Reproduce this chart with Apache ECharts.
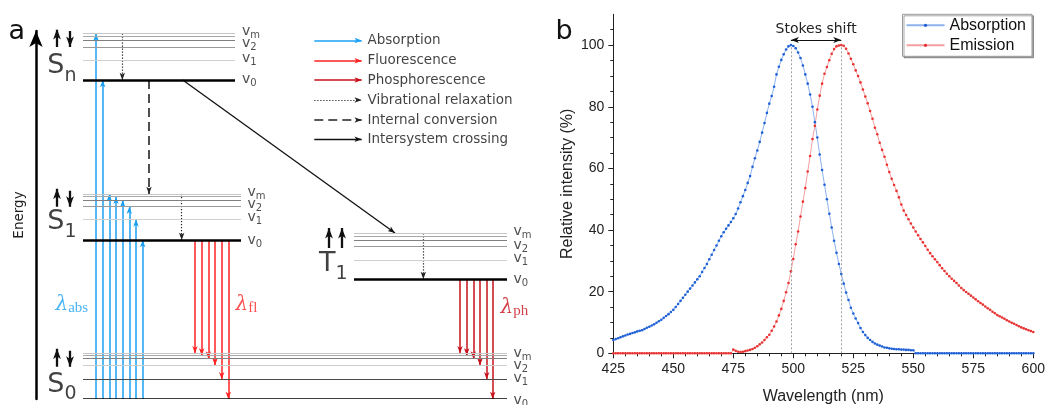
<!DOCTYPE html>
<html><head><meta charset="utf-8">
<script src="https://cdn.jsdelivr.net/npm/echarts@6/dist/echarts.min.js"></script>
<style>html,body{margin:0;padding:0;background:#fff}#c{width:1047px;height:405px}</style>
</head><body><div id="c"></div>
<script>
// ================= Panel b : spectra =================
const WL_START = 425;            // first wavelength (nm), one point per nm
const ABSORPTION = [
 4.3,4.6,4.9,5.2,5.5,5.8,6.1,6.3,6.6,6.8,
 7.1,7.3,7.5,7.9,8.3,8.6,9.0,9.4,9.9,10.4,
 10.9,11.5,12.1,12.7,13.4,14.1,15.0,16.0,17.0,18.0,
 19.0,20.0,21.0,22.0,23.0,24.0,25.0,26.4,27.7,29.0,
 30.5,32.0,33.5,35.0,36.5,38.0,39.3,40.4,41.5,42.6,
 43.8,45.2,47.0,49.0,51.0,53.0,55.3,57.5,60.5,63.3,
 65.8,68.6,71.6,74.7,78.0,81.0,83.5,86.5,90.5,93.0,
 95.2,97.0,98.6,99.6,100,99.7,99.0,97.6,95.8,93.4,
 90.5,87.5,84.0,80.0,75.0,70.0,64.5,59.5,54.7,50.0,
 45.3,40.8,36.5,32.6,29.0,25.7,22.6,19.7,17.3,14.8,
 12.9,11.3,9.8,8.2,6.9,5.9,5.0,4.3,3.7,3.2,
 2.8,2.5,2.2,1.9,1.8,1.6,1.5,1.4,1.3,1.3,
 1.2,1.2,1.1,1.1,1.0,1.0,0,0,0,0,
 0,0,0,0,0,0,0,0,0,0,
 0,0,0,0,0,0,0,0,0,0,
 0,0,0,0,0,0,0,0,0,0,
 0,0,0,0,0,0,0,0,0,0,
 0,0,0,0,0,0
];
const EMISSION = [
 0,0,0,0,0,0,0,0,0,0,
 0,0,0,0,0,0,0,0,0,0,
 0,0,0,0,0,0,0,0,0,0,
 0,0,0,0,0,0,0,0,0,0,
 0,0,0,0,0,0,0,0,0,0,
 1.2,0.8,0.5,0.4,0.5,0.7,0.9,1.1,1.4,1.8,
 2.3,2.9,3.5,4.3,5.2,6.0,7.3,8.7,10.3,12.3,
 14.4,17.0,19.8,22.8,26.6,30.6,35.4,39.5,44.4,49.2,
 53.6,59.0,64.0,69.5,73.8,79.1,83.6,87.5,90.7,92.9,
 95.1,97.2,98.7,99.6,99.9,100,99.8,98.8,97.3,95.6,
 93.8,91.8,90.0,87.9,85.6,83.3,81.1,78.6,76.1,73.2,
 71.1,68.3,66.0,63.8,61.2,58.8,56.6,54.6,52.7,50.6,
 48.3,46.3,44.9,43.5,42.1,40.8,39.5,38.3,37.1,36.0,
 34.8,33.6,32.5,31.5,30.5,29.6,28.6,27.6,26.7,25.8,
 25.0,24.2,23.5,22.8,22.0,21.2,20.5,19.9,19.3,18.7,
 18.1,17.5,16.9,16.3,15.8,15.2,14.6,14.1,13.5,13.0,
 12.4,12.0,11.6,11.2,10.7,10.3,9.9,9.6,9.2,8.8,
 8.4,8.1,7.8,7.5,7.2,6.9
];
const ABS_PEAK = 499, EM_PEAK = 520, STOKES_LEVEL = 101.7;
const SERIES_NAMES = ['Absorption', 'Emission'];
const Y_LABELS = [0, 20, 40, 60, 80, 100];

// ================= Panel a : Jablonski diagram =================
// energies in arbitrary diagram units (0 = S0, v0); x = horizontal diagram position
const STATE_SYMBOL = ['S', 'S', 'T', 'S'];
const STATE_INDEX  = ['n', '1', '1', '0'];
const LEVEL_X_FROM = [83, 83, 354, 83];
const LEVEL_X_TO   = [235, 241, 507, 507];
const LEVEL_V0 = [319, 159, 120, 0];
const LEVEL_V1 = [338.3, 179.7, 139, 19.7];
const LEVEL_V2 = [351.7, 192.3, 153, 33.5];
const LEVEL_VM = [[358.7, 362.5, 365.5], [199, 202.3, 205], [159, 162.3, 165.7], [40.5, 43.5, 45.7]];
const LEVEL_TAG_SUB = ['m', '2', '1', '0'];
const LEVEL_TAG_X = [241.5, 247, 513, 513];
const LEVEL_TAG_E = [[367.3, 355.7, 340.7, 319.3], [206.8, 194.5, 181.5, 159], [167.3, 153.2, 140.7, 119.7], [45.7, 34, 20.7, -1]];
const STATE_TAG_X = [77, 77, 348, 77];
const STATE_TAG_E = [333, 176.7, 135, 14.5];
const SPIN_X = [[57, 70], [57, 70], [329, 342], [57, 70]];
const SPIN_DOWN = [[false, true], [false, true], [false, false], [false, true]];
const SPIN_BASE = [352, 192.3, 151, 32.3];
const SPIN_LEN = [18, 18, 20, 18];

const ABS_X  = [96, 102.7, 109.3, 116, 122.7, 129.3, 136, 142.7];
const ABS_TO = [365.5, 319, 205, 202.3, 199, 192.3, 179.7, 159];
const FL_X   = [195, 201.7, 208.3, 215, 221.7, 228.3];
const FL_TO  = [45.7, 43.5, 40.5, 33.5, 19.7, 0];
const PH_X   = [460, 466.7, 473.3, 480, 486.7, 492.7];
const PH_TO  = [45.7, 43.5, 40.5, 33.5, 19.7, 0];
const VR_X   = [122.3, 181.7, 423.3];     // for Sn, S1, T1
const IC_X = 149, IC_TO = 205;            // Sn v0 -> S1 vm
const ISC_FROM = [182.7, 319], ISC_TO = [395, 166];

const KEY_NAMES = ['Absorption', 'Fluorescence', 'Phosphorescence', 'Vibrational relaxation', 'Internal conversion', 'Intersystem crossing'];
const KEY_E = [358.5, 338.3, 319, 299, 279, 259.7];
const KEY_X = [314.3, 361.7, 367];
const LAMBDA_SUB = ['abs', 'fl', 'ph'];
const LAMBDA_X = [55, 235, 500];
const LAMBDA_E = [94, 94, 91];

// ================= styling =================
const C_ABS = '#1aa0f2', C_FL = '#ff2222', C_PH = '#c8101a';
const ARROW_HEAD = 'path://M-10,-10M10,10M0,0L3,8L0,6L-3,8Z';
const DIAG_FONT = 'DejaVu Sans';

function arrows(id, color, width, type, segs, size) {
  return {
    type: 'lines', id, coordinateSystem: 'cartesian2d', xAxisIndex: 0, yAxisIndex: 0,
    silent: true, z: 3, symbol: ['none', ARROW_HEAD], symbolSize: size || 18,
    lineStyle: { color, width, type, opacity: 1, curveness: 0 },
    data: segs.map(c => ({ coords: c }))
  };
}
const keySeg = j => [[KEY_X[0], KEY_E[j]], [KEY_X[1], KEY_E[j]]];

// level lines
const VM_COLORS = ['#808080', '#a8a8a8', '#c6c6c6'];
const levelData = [];
STATE_SYMBOL.forEach((_, i) => {
  const a = LEVEL_X_FROM[i], b = LEVEL_X_TO[i];
  LEVEL_VM[i].forEach((e, k) => levelData.push({ coords: [[a, e], [b, e]], lineStyle: { color: VM_COLORS[k], width: 1.2 } }));
  levelData.push({ coords: [[a, LEVEL_V2[i]], [b, LEVEL_V2[i]]], lineStyle: { color: i === 3 ? '#cccccc' : '#9a9a9a', width: 1.2 } });
  levelData.push({ coords: [[a, LEVEL_V1[i]], [b, LEVEL_V1[i]]], lineStyle: { color: i === 3 ? '#4a4a4a' : '#d0d0d0', width: 1.2 } });
  levelData.push({ coords: [[a, LEVEL_V0[i]], [b, LEVEL_V0[i]]], lineStyle: { color: '#000', width: 2.6 } });
});

// spin arrows
const spinSegs = [];
SPIN_X.forEach((xs, i) => xs.forEach((x, k) => {
  const lo = SPIN_BASE[i], hi = SPIN_BASE[i] + SPIN_LEN[i];
  spinSegs.push(SPIN_DOWN[i][k] ? [[x, hi - 2], [x, lo]] : [[x, lo], [x, hi]]);
}));

// text tags
const tags = [];
const levelRich = {
  v: { fontFamily: DIAG_FONT, fontSize: 14, color: '#222', lineHeight: 16 },
  s: { fontFamily: DIAG_FONT, fontSize: 10, color: '#222', lineHeight: 12, padding: [8, 0, 0, 0] }
};
STATE_SYMBOL.forEach((sym, i) => {
  LEVEL_TAG_SUB.forEach((sub, k) => tags.push({
    value: [LEVEL_TAG_X[i], LEVEL_TAG_E[i][k]],
    label: { show: true, position: 'right', distance: 0, formatter: () => '{v|v}{s|' + sub + '}', rich: levelRich }
  }));
  tags.push({
    value: [STATE_TAG_X[i], STATE_TAG_E[i]],
    label: { show: true, position: 'left', distance: 0, formatter: () => '{S|' + sym + '}{s|' + STATE_INDEX[i] + '}',
      rich: { S: { fontFamily: DIAG_FONT, fontSize: 27, color: '#111', lineHeight: 28 },
              s: { fontFamily: DIAG_FONT, fontSize: 19, color: '#111', lineHeight: 20, padding: [20, 0, 0, 0] } } }
  });
});
KEY_NAMES.forEach((n, j) => tags.push({
  value: [KEY_X[2], KEY_E[j]],
  label: { show: true, position: 'right', distance: 0, formatter: () => n, fontFamily: DIAG_FONT, fontSize: 13.5, color: '#111' }
}));
const LAMBDA_COLORS = [C_ABS, C_FL, C_PH];
LAMBDA_SUB.forEach((sub, j) => tags.push({
  value: [LAMBDA_X[j], LAMBDA_E[j]],
  label: { show: true, position: 'right', distance: 0, formatter: () => '{l|λ}{s|' + sub + '}',
    rich: { l: { fontFamily: 'DejaVu Serif', fontStyle: 'italic', fontSize: 20, color: LAMBDA_COLORS[j], lineHeight: 22 },
            s: { fontFamily: 'Liberation Serif', fontSize: 15, color: LAMBDA_COLORS[j], lineHeight: 16, padding: [6, 0, 0, 0] } } }
}));

const axisCol = '#222';
const option = {
  animation: false,
  title: [
    { text: 'a', left: 8.5, top: 18.5, padding: 0, textStyle: { fontFamily: DIAG_FONT, fontSize: 27, fontWeight: 'normal', color: '#111' } },
    { text: 'b', left: 555.5, top: 18.5, padding: 0, textStyle: { fontFamily: DIAG_FONT, fontSize: 27, fontWeight: 'normal', color: '#111' } }
  ],
  legend: {
    data: SERIES_NAMES, orient: 'vertical', left: 902.5, top: 14.3,
    itemWidth: 38, itemHeight: 4, itemGap: 4, itemTextGap: 5, padding: [3, 6, 3, 3],
    borderColor: '#9a9a9a', borderWidth: 1, backgroundColor: '#fff',
    shadowColor: 'rgba(0,0,0,0.35)', shadowOffsetX: 1.5, shadowOffsetY: 1.5, shadowBlur: 0,
    selectedMode: false,
    textStyle: { fontFamily: 'Liberation Sans', fontSize: 16, color: '#111' }
  },
  grid: [
    { left: 36, top: 31, width: 504, height: 368, outerBoundsMode: 'none', containLabel: false },
    { left: 613.3, right: 13.7, top: 14.3, bottom: 51.7, outerBoundsMode: 'none', containLabel: false }
  ],
  xAxis: [
    { gridIndex: 0, type: 'value', min: 36, max: 540, show: false },
    { gridIndex: 1, type: 'value', min: 425, max: 600, interval: 25,
      axisLine: { lineStyle: { color: axisCol, width: 1 } },
      axisTick: { show: true, length: 5, lineStyle: { color: axisCol } },
      minorTick: { show: true, splitNumber: 5, length: 3, lineStyle: { color: axisCol } },
      axisLabel: { fontFamily: 'Liberation Sans', fontSize: 14, color: axisCol, margin: 9 },
      splitLine: { show: false },
      name: 'Wavelength (nm)', nameLocation: 'middle', nameGap: 35,
      nameTextStyle: { fontFamily: 'Liberation Sans', fontSize: 16, color: axisCol } }
  ],
  yAxis: [
    { gridIndex: 0, type: 'value', min: 0, max: 368,
      axisLine: { show: true, symbol: ['none', 'arrow'], symbolSize: [10, 16], lineStyle: { color: '#000', width: 2.5 } },
      axisTick: { show: false }, axisLabel: { show: false }, splitLine: { show: false },
      name: 'Energy', nameLocation: 'middle', nameGap: 9.5,
      nameTextStyle: { fontFamily: DIAG_FONT, fontSize: 13.5, color: '#222' } },
    { gridIndex: 1, type: 'value', min: 0, max: 110, interval: 20,
      axisLine: { show: true, lineStyle: { color: axisCol, width: 1 } },
      axisTick: { show: true, length: 5, customValues: Y_LABELS, lineStyle: { color: axisCol } },
      minorTick: { show: true, splitNumber: 4, length: 3, lineStyle: { color: axisCol } },
      axisLabel: { customValues: Y_LABELS, formatter: v => (v > 100 ? '' : String(v)), fontFamily: 'Liberation Sans', fontSize: 14, color: axisCol, margin: 9 },
      splitLine: { show: false },
      name: 'Relative intensity (%)', nameLocation: 'middle', nameGap: 38,
      nameTextStyle: { fontFamily: 'Liberation Sans', fontSize: 16, color: axisCol } }
  ],
  series: [
    { type: 'lines', id: 'levels', coordinateSystem: 'cartesian2d', xAxisIndex: 0, yAxisIndex: 0, silent: true, z: 4,
      symbol: 'none', lineStyle: { opacity: 1, curveness: 0 }, data: levelData },
    arrows('abs', C_ABS, 1.5, 'solid', ABS_X.map((x, k) => [[x, LEVEL_V0[3]], [x, ABS_TO[k]]]).concat([keySeg(0)])),
    arrows('fl', C_FL, 1.5, 'solid', FL_X.map((x, k) => [[x, LEVEL_V0[1]], [x, FL_TO[k]]]).concat([keySeg(1)])),
    arrows('ph', C_PH, 1.5, 'solid', PH_X.map((x, k) => [[x, LEVEL_V0[2]], [x, PH_TO[k]]]).concat([keySeg(2)])),
    arrows('vr', '#222', 1.2, [1.2, 1.8], VR_X.map((x, k) => [[x, Math.max(...LEVEL_VM[k])], [x, LEVEL_V0[k]]]).concat([keySeg(3)])),
    arrows('ic', '#222', 1.6, [9, 5], [[[IC_X, LEVEL_V0[0]], [IC_X, IC_TO]], keySeg(4)]),
    arrows('isc', '#111', 1.3, 'solid', [[ISC_FROM, ISC_TO], keySeg(5)]),
    arrows('spin', '#111', 2.3, 'solid', spinSegs, 26),
    { type: 'scatter', id: 'tags', xAxisIndex: 0, yAxisIndex: 0, silent: true, clip: false, z: 6,
      symbolSize: 1, itemStyle: { color: 'rgba(0,0,0,0)' }, data: tags },

    { type: 'line', name: SERIES_NAMES[0], xAxisIndex: 1, yAxisIndex: 1, silent: true, z: 3,
      data: ABSORPTION.map((v, i) => [WL_START + i, v]),
      symbol: 'circle', symbolSize: 2.6, showSymbol: true, showAllSymbol: true,
      lineStyle: { color: '#8db2ee', width: 1 }, itemStyle: { color: '#1f60d6' },
      markLine: { silent: true, symbol: 'none', animation: false, label: { show: false },
        lineStyle: { type: [2, 2], color: '#a0a0a0', width: 1 },
        data: [[{ coord: [ABS_PEAK, 0] }, { coord: [ABS_PEAK, 100] }], [{ coord: [EM_PEAK, 0] }, { coord: [EM_PEAK, 100] }]] } },
    { type: 'line', name: SERIES_NAMES[1], xAxisIndex: 1, yAxisIndex: 1, silent: true, z: 3,
      data: EMISSION.map((v, i) => [WL_START + i, v]),
      symbol: 'circle', symbolSize: 2.6, showSymbol: true, showAllSymbol: true,
      lineStyle: { color: '#f4a0a0', width: 1 }, itemStyle: { color: '#e83232' },
      markLine: { silent: true, symbol: [ARROW_HEAD, ARROW_HEAD], symbolSize: 20, animation: false,
        lineStyle: { type: 'solid', color: '#111', width: 1.2 },
        label: { show: true, position: 'insideMiddleTop', distance: 4, formatter: 'Stokes shift', fontFamily: DIAG_FONT, fontSize: 14, color: '#222' },
        data: [[{ coord: [ABS_PEAK, STOKES_LEVEL] }, { coord: [EM_PEAK, STOKES_LEVEL] }]] } }
  ]
};
const chart = echarts.init(document.getElementById('c'), null, { renderer: 'canvas' });
chart.setOption(option);
</script>
</body></html>
